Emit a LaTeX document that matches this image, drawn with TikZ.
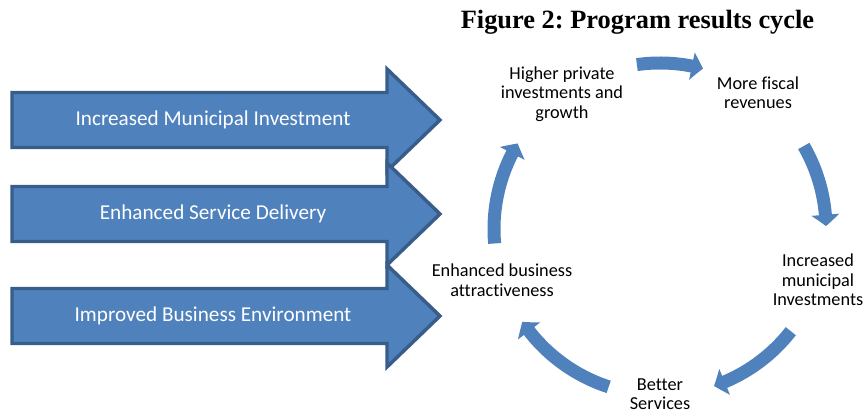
\documentclass[tikz,border=0pt]{standalone}
\usepackage{fontspec}
\setmainfont{Carlito}[Ligatures=NoCommon]
\newfontfamily\titlefont{Liberation Serif}
\usetikzlibrary{arrows.meta,bending,calc}
\definecolor{arrowblue}{RGB}{79,129,189}
\definecolor{arrowline}{RGB}{56,93,138}
\frenchspacing
\begin{document}
\begin{tikzpicture}[x=0.75pt,y=0.75pt,
  bigarrow/.style={draw=arrowline,line width=2.6pt,fill=arrowblue,line join=miter},
  cyc/.style={arrowblue,line width=9.75pt,-{Triangle[length=8.5pt,width=20.5pt,bend]}},
  cyctext/.style={align=center,font=\fontsize{13.7}{14.6}\selectfont}]
  \useasboundingbox (0,0) rectangle (865,413);
  \node[font=\titlefont\bfseries\fontsize{19.8}{22}\selectfont] (title) at (637.5,391)
    {Figure 2: Program results cycle};
  % the three input arrows
  \foreach \y/\t [count=\i] in {293/Increased Municipal Investment,
    199/Enhanced Service Delivery, 97/Improved Business Environment}{
    \draw[bigarrow] (12,\y-27.5) -- (387,\y-27.5) -- (387,\y-51) -- (440,\y)
      -- (387,\y+51) -- (387,\y+27.5) -- (12,\y+27.5) -- cycle;
    \node[white,font=\fontsize{15.9}{18}\selectfont] (in\i) at (213,\y) {\t};
  }
  % results cycle
  \coordinate (hub) at (660,184);
  \node[cyctext] (growth) at (562,319) {Higher private\\investments and\\growth};
  \node[cyctext] (fiscal) at (758,320) {More fiscal\\revenues};
  \node[cyctext] (invest) at (818,133) {Increased\\municipal\\Investments};
  \node[cyctext] (services) at (660,19) {Better\\Services};
  \node[cyctext] (attract) at (502,133) {Enhanced business\\attractiveness};
  \foreach \a/\b in {98/75, 30/1, -38/-71, -108/-146, 185/149}
    \draw[cyc] ($(hub)+(\a:166)$) arc[start angle=\a, end angle=\b, radius=166];
\end{tikzpicture}
\end{document}
